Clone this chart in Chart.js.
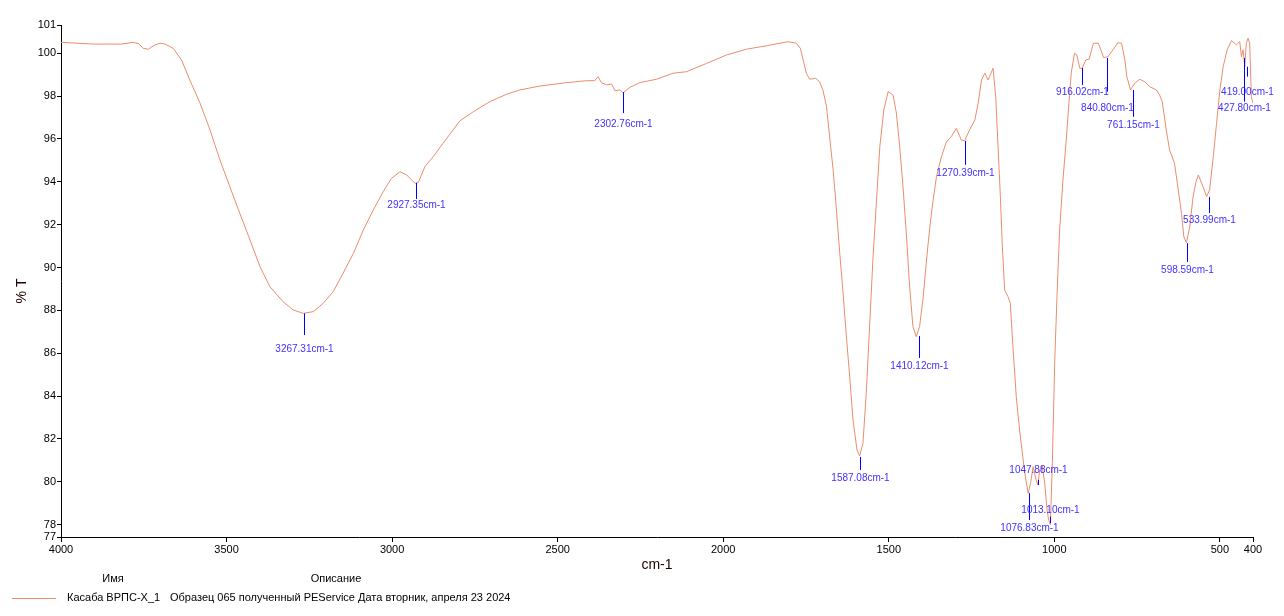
<!DOCTYPE html>
<html>
<head>
<meta charset="utf-8">
<script src="https://cdn.jsdelivr.net/npm/chart.js@4.4.1/dist/chart.umd.min.js"></script>
<style>
  body { margin: 0; background: #fff; }
  canvas { display: block; }
</style>
</head>
<body>
<canvas id="irChart" width="1284" height="616"></canvas>
<script>
// spectrum (cm-1, %T)
const wavenumbers = [
  4000, 3950, 3902, 3860, 3817, 3782, 3765, 3752, 3736, 3726, 3716, 3701, 3686, 3661, 3636,
  3611, 3580, 3550, 3520, 3490, 3460, 3429, 3399, 3369, 3329, 3299, 3268, 3238, 3208, 3178,
  3148, 3117, 3087, 3057, 3027, 3002, 2976, 2956, 2931, 2921, 2901, 2876, 2846, 2816, 2795,
  2755, 2705, 2654, 2614, 2554, 2473, 2413, 2388, 2378, 2368, 2352, 2337, 2327, 2312, 2302,
  2282, 2252, 2201, 2151, 2111, 2050, 1990, 1930, 1869, 1829, 1804, 1779, 1767, 1759, 1749,
  1739, 1721, 1709, 1699, 1688, 1678, 1668, 1658, 1648, 1638, 1628, 1618, 1608, 1596, 1588,
  1578, 1568, 1558, 1548, 1537, 1527, 1515, 1502, 1487, 1477, 1467, 1457, 1447, 1437, 1427,
  1417, 1407, 1397, 1386, 1376, 1366, 1356, 1341, 1326, 1311, 1296, 1281, 1271, 1256, 1240,
  1230, 1220, 1210, 1200, 1185, 1177, 1170, 1163, 1157, 1150, 1140, 1133, 1125, 1115, 1105,
  1094, 1086, 1079, 1072, 1064, 1055, 1050, 1044, 1037, 1029, 1022, 1017, 1012, 1006, 999,
  992, 984, 974, 964, 956, 949, 939, 932, 923, 916, 905, 895, 882, 867, 851,
  838, 823, 808, 797, 787, 781, 770, 757, 742, 727, 712, 692, 682, 674, 662,
  652, 637, 627, 616, 609, 601, 591, 581, 572, 565, 555, 540, 531, 520, 510,
  500, 490, 478, 465, 450, 440, 435, 430, 425, 420, 415, 410, 405, 400
];
const transmittance = [
  100.51, 100.47, 100.43, 100.43, 100.43, 100.51, 100.45, 100.23, 100.19, 100.30, 100.39, 100.47, 100.43, 100.23, 99.69,
  98.75, 97.67, 96.42, 95.02, 93.77, 92.53, 91.28, 90.04, 89.10, 88.40, 88.02, 87.86, 87.94, 88.33, 88.87,
  89.73, 90.66, 91.75, 92.68, 93.54, 94.16, 94.47, 94.32, 93.93, 93.96, 94.71, 95.17, 95.80, 96.42, 96.85,
  97.27, 97.74, 98.09, 98.29, 98.47, 98.63, 98.72, 98.72, 98.91, 98.63, 98.52, 98.57, 98.25, 98.29, 98.16,
  98.41, 98.63, 98.79, 99.07, 99.14, 99.53, 99.92, 100.19, 100.35, 100.47, 100.54, 100.47, 100.23, 99.72, 99.07,
  98.79, 98.83, 98.67, 98.29, 97.51, 96.00, 94.55, 92.68, 90.66, 88.80, 86.77, 84.90, 82.88, 81.48, 81.20,
  81.79, 84.13, 87.24, 90.35, 93.15, 95.64, 97.35, 98.21, 98.05, 97.20, 95.64, 93.77, 91.60, 89.10, 87.24,
  86.77, 87.24, 88.48, 90.35, 91.90, 93.15, 94.24, 95.17, 95.87, 96.11, 96.50, 95.95, 95.92, 96.42, 96.89,
  97.67, 98.75, 99.07, 98.75, 99.30, 97.97, 95.64, 93.31, 90.97, 88.95, 88.64, 88.33, 86.30, 83.97, 82.41,
  81.01, 80.08, 79.46, 79.93, 80.70, 80.08, 79.85, 80.55, 80.78, 79.93, 78.68, 78.21, 78.00, 80.86, 85.53,
  88.64, 91.75, 94.09, 95.95, 97.67, 99.07, 100.00, 99.92, 99.30, 99.30, 99.69, 99.72, 100.47, 100.47, 99.80,
  99.84, 100.16, 100.49, 100.47, 99.69, 98.91, 98.29, 98.60, 98.79, 98.67, 98.44, 98.29, 98.05, 97.74, 96.42,
  95.49, 94.86, 93.77, 92.53, 91.44, 91.16, 91.90, 93.31, 94.01, 94.32, 93.93, 93.31, 93.62, 95.17, 96.73,
  98.29, 99.38, 100.16, 100.59, 100.39, 100.54, 99.84, 100.16, 99.38, 100.47, 100.70, 100.47, 97.97, 97.67
];

// peak picks: position, marker top/bottom and label level (%T)
const peakWn     = [3267.31, 2927.35, 2302.76, 1587.08, 1410.12, 1270.39, 1076.83, 1047.88, 1013.10, 916.02, 840.80, 761.15, 598.59, 533.99, 419.00, 427.80];
const peakTop    = [87.86, 93.95, 98.19, 81.16, 86.80, 95.91, 79.47, 80.08, 78.37, 99.31, 99.78, 98.29, 91.14, 93.30, 99.37, 99.78];
const peakBottom = [86.85, 93.20, 97.21, 80.55, 85.78, 94.79, 78.21, 79.85, 78.07, 98.52, 98.21, 97.03, 90.26, 92.54, 98.91, 97.74];
const peakText   = [86.20, 92.92, 96.70, 80.18, 85.40, 94.41, 77.85, 80.55, 78.68, 98.19, 97.45, 96.65, 89.88, 92.21, 98.19, 97.45];

const yMin = 77.42, yMax = 101.32;
const yTicks = [77.42, 78, 80, 82, 84, 86, 88, 90, 92, 94, 96, 98, 100, 101.32];
const yTickLabels = ['77', '78', '80', '82', '84', '86', '88', '90', '92', '94', '96', '98', '100', '101'];
const xTicks = [4000, 3500, 3000, 2500, 2000, 1500, 1000, 500, 400];
const xTickLabels = ['4000', '3500', '3000', '2500', '2000', '1500', '1000', '500', '400'];

const seriesName = 'Касаба ВРПС-Х_1';
const seriesDesc = 'Образец 065 полученный PEService Дата вторник, апреля 23 2024';

const lineColor = 'rgb(235,140,110)';

// pick a narrow face if it is there
function pickFamily() {
  const c = document.createElement('canvas').getContext('2d');
  c.font = '20px monospace';
  const w0 = c.measureText('mmmmwwww1234').width;
  c.font = '20px "Liberation Sans Narrow", monospace';
  const w1 = c.measureText('mmmmwwww1234').width;
  return w0 !== w1 ? '"Liberation Sans Narrow"' : '"Liberation Sans"';
}
const family = pickFamily();
const narrow = family.indexOf('Narrow') >= 0;
const fs = (n) => narrow ? n : Math.round(n * 0.85);

const extras = {
  id: 'extras',
  afterDatasetsDraw(chart) {
    const ctx = chart.ctx;
    const xs = chart.scales.x, ys = chart.scales.y;
    ctx.save();
    ctx.font = fs(12) + 'px ' + family;
    ctx.textAlign = 'center';
    ctx.textBaseline = 'middle';
    peakWn.forEach((wn, i) => {
      const x = Math.round(xs.getPixelForValue(wn)) + 0.5;
      ctx.strokeStyle = '#0000ff';
      ctx.lineWidth = 1;
      ctx.beginPath();
      ctx.moveTo(x, ys.getPixelForValue(peakTop[i]));
      ctx.lineTo(x, ys.getPixelForValue(peakBottom[i]));
      ctx.stroke();
      ctx.fillStyle = '#4030ff';
      ctx.fillText(wn.toFixed(2) + 'cm-1', x, ys.getPixelForValue(peakText[i]));
    });
    ctx.restore();
  },
  afterDraw(chart) {
    const ctx = chart.ctx;
    const area = chart.chartArea;
    ctx.save();
    ctx.fillStyle = '#200000';
    ctx.font = fs(16) + 'px ' + family;
    ctx.textAlign = 'center';
    ctx.textBaseline = 'middle';
    ctx.fillText('cm-1', (area.left + area.right) / 2, 565);
    ctx.save();
    ctx.translate(22, (area.top + area.bottom) / 2 + 10);
    ctx.rotate(-Math.PI / 2);
    ctx.fillText('% T', 0, 0);
    ctx.restore();

    // legend table
    ctx.fillStyle = '#000';
    ctx.font = fs(13) + 'px ' + family;
    ctx.fillText('Имя', 113, 579);
    ctx.fillText('Описание', 336, 579);
    ctx.strokeStyle = lineColor;
    ctx.lineWidth = 1;
    ctx.beginPath();
    ctx.moveTo(12, 598.5);
    ctx.lineTo(56, 598.5);
    ctx.stroke();
    ctx.textAlign = 'left';
    ctx.fillText(seriesName, 67, 598);
    ctx.fillText(seriesDesc, 170, 598);
    ctx.restore();
  }
};

new Chart(document.getElementById('irChart'), {
  type: 'line',
  data: {
    datasets: [{
      label: seriesName,
      data: wavenumbers.map((w, i) => ({ x: w, y: transmittance[i] })),
      borderColor: lineColor,
      borderWidth: 1,
      pointRadius: 0,
      tension: 0,
      fill: false
    }]
  },
  options: {
    responsive: false,
    animation: false,
    devicePixelRatio: 1,
    layout: { padding: { left: 0, right: 31, top: 25, bottom: 0 } },
    plugins: { legend: { display: false }, tooltip: { enabled: false } },
    scales: {
      x: {
        type: 'linear',
        reverse: true,
        min: 400,
        max: 4000,
        afterBuildTicks: (s) => { s.ticks = xTicks.map(v => ({ value: v })); },
        afterFit: (s) => { s.height = 79; },
        grid: { drawOnChartArea: false, tickLength: 5, tickColor: '#000' },
        border: { color: '#000', width: 1 },
        ticks: {
          autoSkip: false,
          maxRotation: 0,
          padding: 1,
          color: '#000',
          font: { family: family.replace(/"/g, ''), size: fs(13) },
          callback: (v, i) => xTickLabels[i]
        }
      },
      y: {
        type: 'linear',
        min: yMin,
        max: yMax,
        afterBuildTicks: (s) => { s.ticks = yTicks.map(v => ({ value: v })); },
        afterFit: (s) => { s.width = 61; },
        grid: { drawOnChartArea: false, tickLength: 4, tickColor: '#000' },
        border: { color: '#000', width: 1 },
        ticks: {
          autoSkip: false,
          padding: 1,
          color: '#000',
          font: { family: family.replace(/"/g, ''), size: fs(13) },
          callback: (v, i) => yTickLabels[i]
        }
      }
    }
  },
  plugins: [extras]
});
</script>
</body>
</html>
